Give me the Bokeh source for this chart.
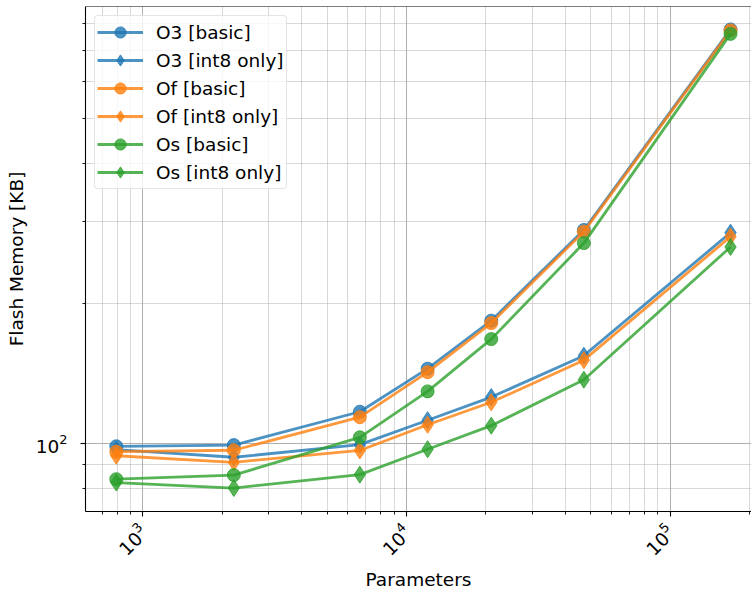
import math
from bokeh.plotting import figure
from bokeh.models import (FixedTicker, LogTickFormatter, Legend, LegendItem,
                          Span, Range1d)
from bokeh.embed import file_html
from bokeh.resources import INLINE

# ---- data ----
params = [793, 2214, 6655, 12030, 20975, 47100, 169600]
o3_basic = [98.7, 99.3, 117.1, 144.9, 183.7, 287.7, 775.5]
o3_int8 = [97.1, 93.5, 99.5, 112.3, 125.9, 154.5, 283.9]
of_basic = [96.1, 96.8, 114.0, 142.4, 181.5, 285.3, 771.7]
of_int8 = [94.2, 91.2, 96.7, 109.8, 122.7, 151.1, 278.4]
os_basic = [83.9, 85.6, 103.2, 129.5, 167.7, 269.6, 758.6]
os_int8 = [82.5, 80.3, 85.8, 97.3, 109.3, 137.2, 264.5]

series_labels = ["O3 [basic]", "O3 [int8 only]", "Of [basic]",
                 "Of [int8 only]", "Os [basic]", "Os [int8 only]"]
series_values = [o3_basic, o3_int8, of_basic, of_int8, os_basic, os_int8]

x_major = [1e3, 1e4, 1e5]
x_minor = [m * 10 ** e for e in (2, 3, 4, 5) for m in range(2, 10)]
y_major = [100]
y_minor = [m * 10 ** e for e in (1, 2) for m in range(2, 10)]

colors = ["#1f77b4", "#1f77b4", "#ff7f0e", "#ff7f0e", "#2ca02c", "#2ca02c"]
markers = ["circle", "diamond", "circle", "diamond", "circle", "diamond"]
sizes = [13, 17, 13, 17, 13, 17]

FONT = "DejaVu Sans"
FS = "18.5px"
Y_TOP = 868.6

p = figure(width=751, height=593, x_axis_type="log", y_axis_type="log",
           x_range=Range1d(606, 203700), y_range=Range1d(71.5, Y_TOP),
           output_backend="svg", toolbar_location=None,
           min_border_left=85, min_border_right=0, min_border_top=6,
           min_border_bottom=82)
p.outline_line_color = None
p.background_fill_color = "white"
p.border_fill_color = "white"

xt = FixedTicker(ticks=x_major, minor_ticks=x_minor)
yt = FixedTicker(ticks=y_major, minor_ticks=y_minor)
p.xaxis.ticker = xt
p.yaxis.ticker = yt
p.xgrid.ticker = xt
p.ygrid.ticker = yt
p.xaxis.formatter = LogTickFormatter()
p.yaxis.formatter = LogTickFormatter()

for g in (p.xgrid, p.ygrid):
    g.grid_line_color = "#b0b0b0"
    g.grid_line_width = 1
    g.minor_grid_line_color = "#b0b0b0"
    g.minor_grid_line_width = 1
    g.minor_grid_line_dash = "1 1"

for ax in (p.xaxis, p.yaxis):
    ax.axis_line_color = "black"
    ax.axis_line_width = 1.1
    ax.major_tick_out = 5
    ax.major_tick_in = 0
    ax.minor_tick_out = 3
    ax.minor_tick_in = 0
    ax.major_tick_line_width = 1.1
    ax.minor_tick_line_width = 0.9
    ax.major_label_text_font = FONT
    ax.major_label_text_font_size = FS
    ax.major_label_text_color = "black"
    ax.axis_label_text_font = FONT
    ax.axis_label_text_font_size = FS
    ax.axis_label_text_font_style = "normal"
    ax.axis_label_text_color = "black"

p.xaxis.axis_label = "Parameters"
p.yaxis.axis_label = "Flash Memory [KB]"
p.xaxis.major_label_orientation = math.pi / 4
p.xaxis.major_label_standoff = 11
p.xaxis.axis_label_standoff = 3
p.yaxis.major_label_standoff = 13
p.yaxis.axis_label_standoff = 6

p.add_layout(Span(location=Y_TOP, dimension="width", line_color="black",
                  line_width=1.1))

items = []
for lab, vals, c, m, s in zip(series_labels, series_values, colors, markers, sizes):
    lr = p.line(params, vals, line_color=c, line_width=2.8, line_alpha=0.8)
    sr = p.scatter(params, vals, marker=m, size=s, fill_color=c, line_color=c,
                   fill_alpha=0.8, line_alpha=0.8)
    items.append(LegendItem(label=lab, renderers=[lr, sr]))

legend = Legend(items=items, location="top_left", margin=9, padding=2,
                spacing=0, glyph_height=28, label_height=28, glyph_width=46,
                label_standoff=13, label_text_font=FONT,
                label_text_font_size=FS, label_text_color="black",
                border_line_color="#cccccc",
                border_line_width=1, background_fill_alpha=0.8)
if "border_radius" in Legend.properties():
    legend.border_radius = 4
p.add_layout(legend)

open("out.html", "w").write(file_html(p, INLINE))
